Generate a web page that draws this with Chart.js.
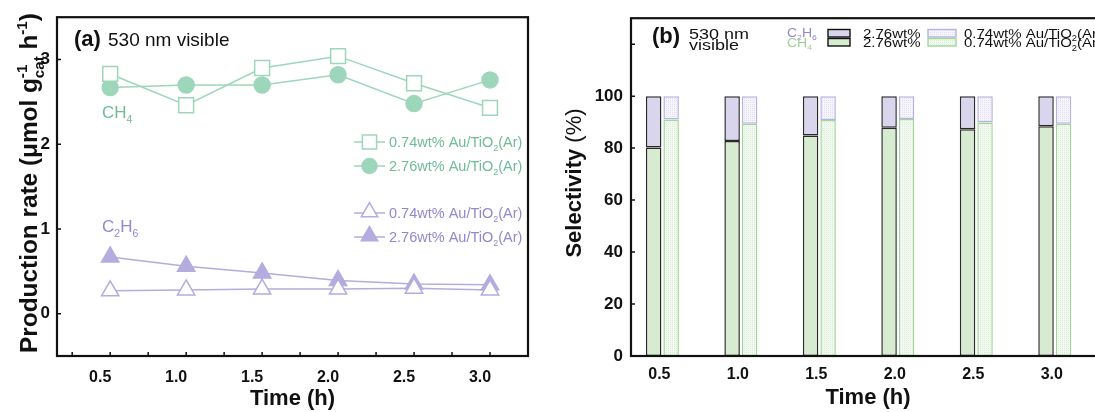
<!DOCTYPE html>
<html>
<head>
<meta charset="utf-8">
<script src="https://cdn.jsdelivr.net/npm/chart.js@4.4.1/dist/chart.umd.min.js"></script>
<style>
  html, body { margin: 0; padding: 0; background: #fff; overflow: hidden; width: 1095px; height: 412px; }
  #boxA { position: absolute; left: 0; top: 0; width: 540px; height: 412px; }
  #boxB { position: absolute; left: 540px; top: 0; width: 600px; height: 412px; }
</style>
</head>
<body>
<div id="boxA"><canvas id="rateChart" width="540" height="412"></canvas></div>
<div id="boxB"><canvas id="selChart" width="600" height="412"></canvas></div>
<script>
// time points (h)
const times = [0.5, 1.0, 1.5, 2.0, 2.5, 3.0];

// (a) production rate, umol g-1 h-1
const ch4Low   = [2.83, 2.46, 2.90, 3.04, 2.72, 2.43];   // 0.74wt% Au/TiO2(Ar)
const ch4High  = [2.67, 2.70, 2.70, 2.82, 2.48, 2.76];   // 2.76wt% Au/TiO2(Ar)
const c2h6Low  = [0.27, 0.28, 0.29, 0.29, 0.30, 0.28];
const c2h6High = [0.67, 0.56, 0.48, 0.39, 0.35, 0.34];

// (b) selectivity, %
const selCh4High  = [80.2, 82.7, 84.9, 87.8, 87.3, 88.4];
const selC2h6High = [19.8, 17.3, 15.1, 12.2, 12.7, 11.6];
const selCh4Low   = [91.0, 89.4, 90.8, 91.2, 89.9, 89.4];
const selC2h6Low  = [9.0, 10.6, 9.2, 8.8, 10.1, 10.6];

const rateTicks = [0, 1, 2, 3];
const selTicks = [0, 20, 40, 60, 80, 100];
const selTickMarks = [0, 20, 40, 60, 80, 100, 120];

const F = "'Liberation Sans', Arial, Helvetica, sans-serif";
const GREEN = 'rgb(158,214,188)';
const GREEN_TXT = 'rgb(112,188,152)';
const PURPLE = 'rgb(180,172,222)';
const PURPLE_TXT = 'rgb(146,136,204)';
const INK = '#111';

function setFont(ctx, size, weight) { ctx.font = (weight || 'normal') + ' ' + size + 'px ' + F; }

// rich text: parts {t, k:'n'|'b'(sub)|'p'(sup)|'s'(stacked b+p), w}
function partWidth(ctx, p, size, weight) {
  const w = p.w || weight, small = size * 0.62;
  if (p.k === 's') { setFont(ctx, small, w); return Math.max(ctx.measureText(p.b).width, ctx.measureText(p.p).width); }
  setFont(ctx, p.k === 'b' || p.k === 'p' ? small : size, w);
  return ctx.measureText(p.t).width;
}
function richWidth(ctx, parts, size, weight) {
  return parts.reduce((a, p) => a + partWidth(ctx, p, size, weight), 0);
}
function drawRich(ctx, parts, x, y, size, weight, color, align) {
  const total = richWidth(ctx, parts, size, weight), small = size * 0.62;
  let cx = align === 'center' ? x - total / 2 : (align === 'right' ? x - total : x);
  ctx.fillStyle = color; ctx.textAlign = 'left'; ctx.textBaseline = 'alphabetic';
  parts.forEach(p => {
    const w = p.w || weight, pw = partWidth(ctx, p, size, weight);
    if (p.k === 's') {
      setFont(ctx, small, w);
      ctx.fillText(p.b, cx, y + size * 0.28);
      ctx.fillText(p.p, cx, y - size * 0.42);
    } else if (p.k === 'b') { setFont(ctx, small, w); ctx.fillText(p.t, cx, y + size * 0.28); }
    else if (p.k === 'p') { setFont(ctx, small, w); ctx.fillText(p.t, cx, y - size * 0.42); }
    else { setFont(ctx, size, w); ctx.fillText(p.t, cx, y); }
    cx += pw;
  });
}
// squashed text (the (b) panel labels look flattened)
function drawFlat(ctx, parts, x, y, size, weight, color, sy) {
  ctx.save(); ctx.translate(x, y); ctx.scale(1, sy);
  drawRich(ctx, parts, 0, 0, size, weight, color, 'left');
  ctx.restore();
}
function drawVertical(ctx, parts, cx, cy, size, weight, color) {
  ctx.save(); ctx.translate(cx, cy); ctx.rotate(-Math.PI / 2);
  drawRich(ctx, parts, 0, size * 0.36, size, weight, color, 'center');
  ctx.restore();
}

// same geometry as chart.js point styles
function marker(ctx, style, x, y, r, fill, stroke) {
  ctx.beginPath();
  if (style === 'rect') { const s = Math.SQRT1_2 * r; ctx.rect(x - s, y - s, 2 * s, 2 * s); }
  else if (style === 'circle') { ctx.arc(x, y, r, 0, Math.PI * 2); }
  else {
    let a = 0; ctx.moveTo(x + Math.sin(a) * r, y - Math.cos(a) * r);
    a += Math.PI * 2 / 3; ctx.lineTo(x + Math.sin(a) * r, y - Math.cos(a) * r);
    a += Math.PI * 2 / 3; ctx.lineTo(x + Math.sin(a) * r, y - Math.cos(a) * r);
    ctx.closePath();
  }
  ctx.fillStyle = fill; ctx.fill();
  ctx.lineWidth = 1.5; ctx.strokeStyle = stroke; ctx.stroke();
}

function frame(ctx, a) {
  ctx.save(); ctx.strokeStyle = INK; ctx.lineWidth = 2.2;
  ctx.strokeRect(a.left, a.top, a.right - a.left, a.bottom - a.top);
  ctx.restore();
}

const sub2 = { t: '2', k: 'b' };
const legendRows = [
  { style: 'rect', fill: '#fff', color: GREEN, txt: GREEN_TXT, lab: '0.74wt% Au/TiO', y: 142 },
  { style: 'circle', fill: GREEN, color: GREEN, txt: GREEN_TXT, lab: '2.76wt% Au/TiO', y: 166 },
  { style: 'triangle', fill: '#fff', color: PURPLE, txt: PURPLE_TXT, lab: '0.74wt% Au/TiO', y: 213 },
  { style: 'triangle', fill: PURPLE, color: PURPLE, txt: PURPLE_TXT, lab: '2.76wt% Au/TiO', y: 237 }
];

const ratePlugin = {
  id: 'rateDecor',
  afterDraw(chart) {
    const ctx = chart.ctx, a = chart.chartArea, xs = chart.scales.x, ys = chart.scales.y;
    ctx.save();
    frame(ctx, a);
    ctx.strokeStyle = INK; ctx.lineWidth = 1.5; ctx.beginPath();
    for (let v = 0.25; v < 3.26; v += 0.25) { const px = xs.getPixelForValue(v); ctx.moveTo(px, a.bottom); ctx.lineTo(px, a.bottom - 4); }
    rateTicks.forEach(v => { const py = ys.getPixelForValue(v); ctx.moveTo(a.left, py); ctx.lineTo(a.left + 4, py); });
    ctx.stroke();

    // y title
    const title = [{ t: 'Production rate (\u03bcmol g' }, { k: 's', b: 'cat', p: '-1' }, { t: ' h' }, { t: '-1', k: 'p' }, { t: ')' }];
    let sz = 20; sz = sz * 340 / richWidth(ctx, title, sz, 'bold');
    drawVertical(ctx, title, 28, 183, sz, 'bold', INK);

    // panel label
    drawRich(ctx, [{ t: '(a)', w: 'bold' }], 74, 46, 22, 'bold', INK, 'left');
    drawRich(ctx, [{ t: '530 nm visible' }], 108, 46, 19, 'normal', INK, 'left');
    drawRich(ctx, [{ t: 'CH' }, { t: '4', k: 'b' }], 102, 118, 17, 'normal', GREEN_TXT, 'left');
    drawRich(ctx, [{ t: 'C' }, sub2, { t: 'H' }, { t: '6', k: 'b' }], 102, 232, 17, 'normal', PURPLE_TXT, 'left');

    // legend
    legendRows.forEach(r => {
      ctx.strokeStyle = r.color; ctx.lineWidth = 1.5; ctx.beginPath();
      ctx.moveTo(354, r.y); ctx.lineTo(385, r.y); ctx.stroke();
      const rad = r.style === 'circle' ? 7.5 : (r.style === 'rect' ? 10 : 9.5);
      marker(ctx, r.style, 369.5, r.style === 'triangle' ? r.y - 1 : r.y, rad, r.fill, r.color);
      drawRich(ctx, [{ t: r.lab }, sub2, { t: '(Ar)' }], 389, r.y + 5, 14.5, 'normal', r.txt, 'left');
    });
    ctx.restore();
  }
};

const pts = arr => times.map((t, i) => ({ x: t, y: arr[i] }));
const lineSet = (label, arr, style, fill, color, r) => ({
  label, data: pts(arr), borderColor: color, backgroundColor: fill, borderWidth: 1.5,
  pointStyle: style, pointRadius: r, pointBorderWidth: 1.5, pointBorderColor: color, pointBackgroundColor: fill
});

new Chart(document.getElementById('rateChart'), {
  type: 'line',
  data: {
    datasets: [
      lineSet('CH4 0.74wt%', ch4Low, 'rect', '#fff', GREEN, 10.5),
      lineSet('CH4 2.76wt%', ch4High, 'circle', GREEN, GREEN, 8),
      lineSet('C2H6 0.74wt%', c2h6Low, 'triangle', '#fff', PURPLE, 10),
      lineSet('C2H6 2.76wt%', c2h6High, 'triangle', PURPLE, PURPLE, 10)
    ]
  },
  options: {
    responsive: false, animation: false,
    layout: { padding: { left: 0, right: 11, top: 15, bottom: 0 } },
    plugins: { legend: { display: false }, tooltip: { enabled: false } },
    scales: {
      x: {
        type: 'linear', min: 0.15, max: 3.25,
        afterBuildTicks: s => { s.ticks = times.map(v => ({ value: v })); },
        afterFit: s => { s.height = 56; },
        grid: { display: false, drawTicks: false }, border: { display: false },
        ticks: { padding: 12, labelOffset: -10, color: INK, font: { family: F, size: 16, weight: 'bold' }, callback: v => v.toFixed(1) },
        title: { display: true, text: 'Time (h)', color: INK, font: { family: F, size: 22, weight: 'bold' }, padding: { top: 0, bottom: 0 } }
      },
      y: {
        min: -0.5, max: 3.5,
        afterBuildTicks: s => { s.ticks = rateTicks.map(v => ({ value: v })); },
        afterFit: s => { s.width = 57; },
        grid: { display: false, drawTicks: false }, border: { display: false },
        ticks: { padding: 7, color: INK, font: { family: F, size: 17, weight: 'bold' } }
      }
    }
  },
  plugins: [ratePlugin]
});

// fine dotted fills for the 0.74wt% bars
function dots(bg, dot) {
  const c = document.createElement('canvas'); c.width = 2; c.height = 2;
  const g = c.getContext('2d');
  g.fillStyle = bg; g.fillRect(0, 0, 2, 2);
  g.fillStyle = dot; g.fillRect(0, 0, 1, 1);
  return g.createPattern(c, 'repeat');
}
const selCtx = document.getElementById('selChart').getContext('2d');
const greenDots = dots('#f2f9f0', '#d9eed4');
const purpleDots = dots('#f6f5fc', '#e1dff3');
const DARK_G = 'rgb(214,235,207)', DARK_P = 'rgb(216,213,237)';
const EDGE_G = 'rgb(162,214,152)', EDGE_P = 'rgb(182,178,228)';

const selPlugin = {
  id: 'selDecor',
  afterDraw(chart) {
    const ctx = chart.ctx, a = chart.chartArea, ys = chart.scales.y;
    ctx.save();
    frame(ctx, a);
    ctx.strokeStyle = INK; ctx.lineWidth = 1.5; ctx.beginPath();
    selTickMarks.forEach(v => { const py = ys.getPixelForValue(v); ctx.moveTo(a.left, py); ctx.lineTo(a.left + 4, py); });
    ctx.stroke();

    drawVertical(ctx, [{ t: 'Selectivity', w: 'bold' }, { t: ' (%)', w: 'normal' }], 33, 183, 22, 'bold', INK);

    drawRich(ctx, [{ t: '(b)' }], 112, 43, 22, 'bold', INK, 'left');
    drawFlat(ctx, [{ t: '530 nm' }], 149, 38.5, 18, 'normal', INK, 0.85);
    drawFlat(ctx, [{ t: 'visible' }], 149, 50, 18, 'normal', INK, 0.85);

    drawFlat(ctx, [{ t: 'C' }, sub2, { t: 'H' }, { t: '6', k: 'b' }], 247, 37, 14, 'normal', PURPLE_TXT, 0.85);
    drawFlat(ctx, [{ t: 'CH' }, { t: '4', k: 'b' }], 247, 46.5, 14, 'normal', 'rgb(160,208,150)', 0.85);

    const sw = [
      [288, 29.5, 22, DARK_P, INK], [288, 38.5, 22, DARK_G, INK],
      [388, 29.5, 28, purpleDots, EDGE_P], [388, 38.5, 28, greenDots, EDGE_G]
    ];
    sw.forEach(s => {
      ctx.fillStyle = s[3]; ctx.fillRect(s[0], s[1], s[2], 7.5);
      ctx.strokeStyle = s[4]; ctx.lineWidth = 1.4; ctx.strokeRect(s[0], s[1], s[2], 7.5);
    });
    drawFlat(ctx, [{ t: '2.76wt%' }], 323, 37.5, 15, 'normal', INK, 0.88);
    drawFlat(ctx, [{ t: '2.76wt%' }], 323, 47, 15, 'normal', INK, 0.88);
    drawFlat(ctx, [{ t: '0.74wt% Au/TiO' }, sub2, { t: '(Ar)' }], 424, 37.5, 15, 'normal', INK, 0.88);
    drawFlat(ctx, [{ t: '0.74wt% Au/TiO' }, sub2, { t: '(Ar)' }], 424, 47, 15, 'normal', INK, 0.88);
    ctx.restore();
  }
};

const barSet = (label, arr, stack, fill, edge) => ({
  label, data: pts(arr), stack, backgroundColor: fill, borderColor: edge,
  borderWidth: 1.5, borderSkipped: false, categoryPercentage: 0.446, barPercentage: 0.886
});

new Chart(selCtx, {
  type: 'bar',
  data: {
    datasets: [
      barSet('CH4 2.76wt%', selCh4High, 'high', DARK_G, '#2a2a2a'),
      barSet('CH4 0.74wt%', selCh4Low, 'low', greenDots, EDGE_G),
      barSet('C2H6 2.76wt%', selC2h6High, 'high', DARK_P, '#2a2a2a'),
      barSet('C2H6 0.74wt%', selC2h6Low, 'low', purpleDots, EDGE_P)
    ]
  },
  options: {
    responsive: false, animation: false,
    layout: { padding: { left: 0, right: 35, top: 15, bottom: 0 } },
    plugins: { legend: { display: false }, tooltip: { enabled: false } },
    scales: {
      x: {
        type: 'linear', min: 0.3, max: 3.32, offset: false,
        afterBuildTicks: s => { s.ticks = times.map(v => ({ value: v })); },
        afterFit: s => { s.height = 56; },
        grid: { display: false, drawTicks: false }, border: { display: false },
        ticks: { padding: 9, labelOffset: -3, color: INK, font: { family: F, size: 16, weight: 'bold' }, callback: v => v.toFixed(1) },
        title: { display: true, text: 'Time (h)', color: INK, font: { family: F, size: 22, weight: 'bold' }, padding: { top: 0, bottom: 1 } }
      },
      y: {
        stacked: true, min: 0, max: 130,
        afterBuildTicks: s => { s.ticks = selTicks.map(v => ({ value: v })); },
        afterFit: s => { s.width = 91; },
        grid: { display: false, drawTicks: false }, border: { display: false },
        ticks: { padding: 8, color: INK, font: { family: F, size: 17, weight: 'bold' } }
      }
    }
  },
  plugins: [selPlugin]
});
</script>
</body>
</html>
